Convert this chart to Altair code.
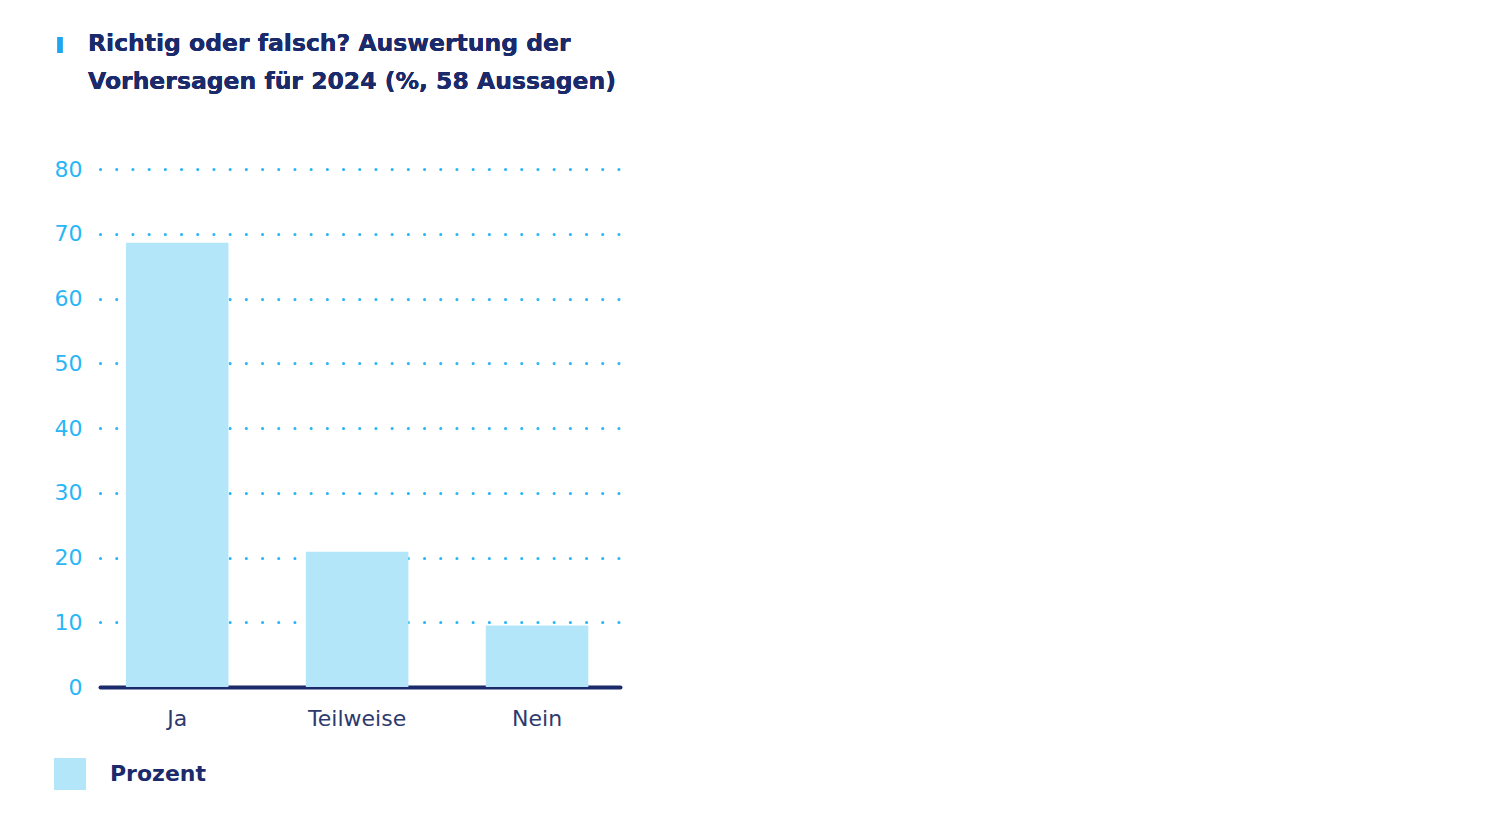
import altair as alt
import pandas as pd

categories = ["Ja", "Teilweise", "Nein"]
values = [68.6, 20.9, 9.5]
series_name = "Prozent"
title_lines = ["Richtig oder falsch? Auswertung der", "Vorhersagen für 2024 (%, 58 Aussagen)"]

df = pd.DataFrame({"Antwort": categories, "Wert": values, "Serie": [series_name] * 3})

NAVY = "#1b2a6b"
BLUE = "#29b6f6"
BAR = "#b3e6f8"
FONT = "DejaVu Sans"

bars = alt.Chart(df).mark_bar(color=BAR).encode(
    x=alt.X("Antwort:N", sort=categories,
            scale=alt.Scale(paddingInner=0.43, paddingOuter=0.16, align=0.45),
            axis=alt.Axis(title=None, labelAngle=0, labelFontSize=22, labelColor="#2e3a6e",
                          labelFont=FONT, labelPadding=21, ticks=False, grid=False,
                          domainColor=NAVY, domainWidth=4, domainCap="round")),
    y=alt.Y("Wert:Q", scale=alt.Scale(domain=[0, 80]),
            axis=alt.Axis(title=None, values=[0, 10, 20, 30, 40, 50, 60, 70, 80],
                          labelFontSize=22, labelColor=BLUE, labelFont=FONT,
                          labelPadding=18, ticks=False, domain=False,
                          grid=True, gridColor=BLUE, gridDash=[0.1, 16.1], gridWidth=3,
                          gridCap="round")),
    color=alt.Color("Serie:N", scale=alt.Scale(range=[BAR]),
                    legend=alt.Legend(title=None, orient="none", legendX=-46, legendY=589,
                                      symbolType="square", symbolSize=1024,
                                      symbolStrokeWidth=0, labelFontSize=22,
                                      labelFont=FONT, labelFontWeight="bold",
                                      labelColor=NAVY, labelOffset=24)),
)

marker = alt.Chart(df).mark_rule(color="#1ea7f0", strokeWidth=5).encode(
    x=alt.value(-40), y=alt.value(-132), y2=alt.value(-116)
)

title1 = alt.Chart(df).mark_text(
    align="left", baseline="middle", font=FONT, fontSize=23.5, fontWeight="bold", color=NAVY
).encode(x=alt.value(-12), y=alt.value(-125), text=alt.value(title_lines[0]))

title2 = alt.Chart(df).mark_text(
    align="left", baseline="middle", font=FONT, fontSize=23.5, fontWeight="bold", color=NAVY
).encode(x=alt.value(-12), y=alt.value(-87), text=alt.value(title_lines[1]))

chart = alt.layer(bars, marker, title1, title2).properties(
    width=520, height=518,
    padding={"left": 100, "top": 169, "right": 868, "bottom": 150},
    autosize=alt.AutoSizeParams(type="none"),
    background="white",
).configure_view(strokeWidth=0, stroke="transparent")

chart.save("out.html", embed_options={"renderer": "svg", "actions": False})
